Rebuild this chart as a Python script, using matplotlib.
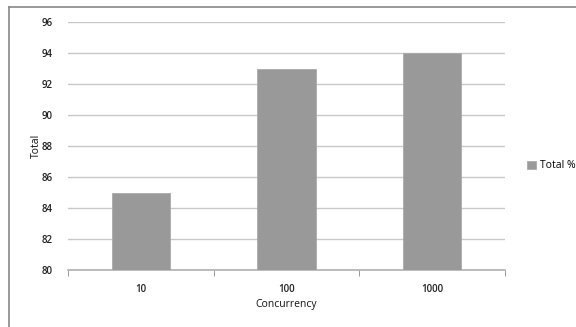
import numpy as np
import matplotlib.pyplot as plt
from matplotlib.lines import Line2D

categories = ["10", "100", "1000"]
totals = [85, 93, 94]
series_name = "Total %"

plt.rcParams['font.family'] = ['Open Sans', 'DejaVu Sans']

fig = plt.figure(figsize=(5.76, 3.27), dpi=100)
ax = fig.add_axes([68 / 576, 57 / 327, (505 - 68) / 576, (270 - 22) / 327])

x = np.arange(len(categories))
ax.bar(x, np.array(totals) - 80, bottom=80, width=0.4, color="#999999",
       edgecolor="#aaaaaa", linewidth=0.6, label=series_name, zorder=3)

ax.set_xlim(-0.5, len(categories) - 0.5)
ax.set_ylim(80, 96)
ax.set_yticks(np.arange(80, 97, 2))
ax.tick_params(axis="y", length=0, labelsize=7, pad=11, labelcolor="#222222")
ax.set_xticks(x)
ax.set_xticklabels(categories)
ax.set_xticks(np.arange(-0.5, len(categories), 1), minor=True)
ax.tick_params(axis="x", which="major", length=0, labelsize=7, pad=10, labelcolor="#222222")
ax.tick_params(axis="x", which="minor", length=4, color="#888888", direction="out")
for lbl in ax.get_xticklabels() + ax.get_yticklabels():
    lbl.set_fontweight("semibold")

ax.grid(axis="y", color="#c8c8c8", linewidth=1.0, zorder=0)
for s in ["top", "right", "left"]:
    ax.spines[s].set_visible(False)
ax.spines["bottom"].set_color("#b0b0b0")
ax.spines["bottom"].set_linewidth(1.2)

ax.set_ylabel("Total", fontsize=7.5, labelpad=0, color="#111111")
ax.set_xlabel("Concurrency", fontsize=7.5, labelpad=3, color="#111111")

ax.legend(loc="center left", bbox_to_anchor=(1.03, 0.42), frameon=False,
          fontsize=7.5, handlelength=0.8, handleheight=0.8, handletextpad=0.4)

# outer chart border (top and left visible)
fig.add_artist(Line2D([9 / 576, 1], [1 - 7 / 327, 1 - 7 / 327], color="#888888", lw=1.2))
fig.add_artist(Line2D([9 / 576, 9 / 576], [0, 1 - 7 / 327], color="#888888", lw=1.2))

fig.savefig("out.png", dpi=100)
